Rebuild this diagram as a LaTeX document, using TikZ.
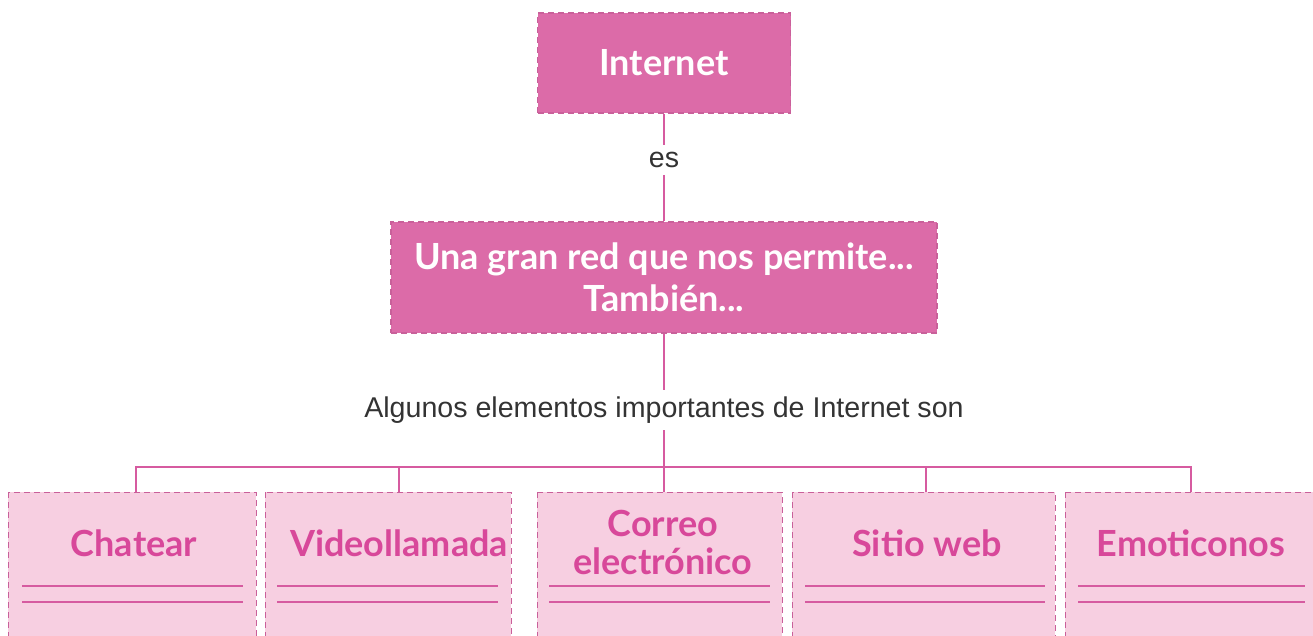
\documentclass[tikz,border=0pt]{standalone}
\usepackage{fontspec}
\setmainfont{Lato}
\newfontfamily\labelfont{Liberation Sans}
\definecolor{darkpink}{HTML}{DC6BA8}
\definecolor{lightpink}{HTML}{F7CFE1}
\definecolor{linepink}{HTML}{D65BA0}
\definecolor{textpink}{HTML}{D8489A}
\definecolor{borderpink}{HTML}{C9609A}
\tikzset{
  topbox/.style={fill=darkpink, draw=borderpink, densely dashed, line width=0.6pt, text=white, font=\bfseries\fontsize{18}{21}\selectfont, align=center},
  itembox/.style={fill=lightpink, draw=borderpink, densely dashed, line width=0.5pt},
  itemtext/.style={text=textpink, font=\bfseries\fontsize{18}{19}\selectfont, align=center},
  conn/.style={draw=linepink, line width=1.4pt},
  rule/.style={draw=linepink, line width=1pt},
  lbl/.style={font=\labelfont\fontsize{14.3}{16}\selectfont, text=black!80}
}
\begin{document}
\begin{tikzpicture}[x=0.5pt,y=-0.5pt]
\useasboundingbox (0,0) rectangle (1313,636);
\begin{scope}
\clip (0,0) rectangle (1313,636);
% top boxes
\node[topbox, minimum width=126.5pt, minimum height=50pt] (inet) at (664,63) {Internet};
\node[topbox, minimum width=273pt, minimum height=55.5pt] (red) at (664,277.5) {Una gran red que nos permite...\\Tambi\'en...};
\node[lbl] (es) at (664,160) {es};
\node[lbl] (alg) at (664,410) {Algunos elementos importantes de Internet son};
% bottom boxes
\path[itembox] (8,492) rectangle (256,650);
\path[itembox] (265,492) rectangle (511,650);
\path[itembox] (537,492) rectangle (782,650);
\path[itembox] (792,492) rectangle (1055,650);
\path[itembox] (1065,492) rectangle (1330,650);
\coordinate (b1) at (136,492);
\coordinate (b2) at (399,492);
\coordinate (b3) at (664,492);
\coordinate (b4) at (926,492);
\coordinate (b5) at (1191,492);
\node[itemtext] (t1) at (134,543) {Chatear};
\node[itemtext] (t2) at (399,543) {Videollamada};
\node[itemtext] (t3) at (663,542) {Correo\\electr\'onico};
\node[itemtext] (t4) at (927,543) {Sitio web};
\node[itemtext] (t5) at (1191,543) {Emoticonos};
% writing lines
\foreach \a/\b in {22/243, 277/498, 549/770, 805/1045, 1078/1305}{
  \draw[rule] (\a,586) -- (\b,586);
  \draw[rule] (\a,602) -- (\b,602);
}
% connectors
\coordinate (bar) at (664,467);
\draw[conn] (inet.south) -- (es.north);
\draw[conn] (es.south) -- (red.north);
\draw[conn] (red.south) -- (alg.north);
\draw[conn] (alg.south) -- (bar);
\draw[conn] (b1) -- (136,467) -- (1191,467) -- (b5);
\draw[conn] (b2) -- (399,467);
\draw[conn] (b3) -- (bar);
\draw[conn] (b4) -- (926,467);
\end{scope}
\end{tikzpicture}
\end{document}
